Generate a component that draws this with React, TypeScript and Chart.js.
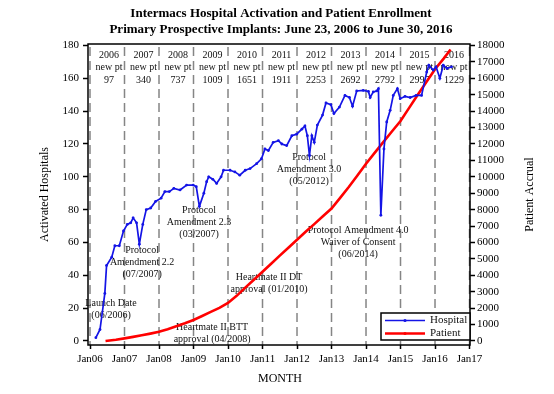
import React, { useEffect, useRef } from 'react';
import { Chart, registerables } from 'chart.js';

Chart.register(...registerables);

const FONT = '"Liberation Serif", "Times New Roman", serif';

// ---- data ----
const hospitalDates = [
  2006.17, 2006.29, 2006.43, 2006.48, 2006.63, 2006.72, 2006.85, 2006.97,
  2007.08, 2007.18, 2007.25, 2007.35, 2007.43, 2007.53, 2007.63, 2007.76, 2007.9,
  2008.06, 2008.17, 2008.3, 2008.43, 2008.61, 2008.8, 2008.99,
  2009.08, 2009.17, 2009.3, 2009.38, 2009.44, 2009.56, 2009.67, 2009.8, 2009.87,
  2010.06, 2010.2, 2010.34, 2010.5, 2010.64, 2010.83, 2010.97,
  2011.07, 2011.17, 2011.31, 2011.46, 2011.56, 2011.7, 2011.85, 2011.99,
  2012.14, 2012.23, 2012.3, 2012.36, 2012.43, 2012.5, 2012.59, 2012.74, 2012.84, 2012.98,
  2013.07, 2013.23, 2013.39, 2013.52, 2013.61, 2013.73, 2013.92,
  2014.07, 2014.12, 2014.21, 2014.31, 2014.36, 2014.43, 2014.52, 2014.6, 2014.7, 2014.79, 2014.91, 2014.99,
  2015.13, 2015.28, 2015.45, 2015.61, 2015.76, 2015.82, 2015.95,
  2016.03, 2016.14, 2016.24, 2016.35, 2016.48,
];
const hospitalCounts = [
  2, 7, 29, 46, 51, 58, 58, 67,
  71, 72, 75, 72, 59, 71, 80, 81, 85,
  87, 91, 91, 93, 92, 95, 95,
  94, 82, 90, 97, 100, 98.5, 96, 100, 104,
  104, 103, 101, 104, 105, 108, 111,
  117, 116, 121, 122, 120, 119, 125, 126,
  129, 131, 125, 113, 125, 121, 131.5, 137.6, 145, 144,
  138.5, 142.5, 149.6, 148.3, 143, 152.3, 152.7,
  152, 148.3, 151.7, 152.3, 153.7, 76.6, 117, 133.4, 140.5, 149.6, 153.7, 147.6,
  149, 148.3, 149.6, 149.6, 163.8, 168, 165,
  167, 160, 168, 166, 167,
];

const patientDates = [
  2006.45, 2006.75, 2007.0, 2007.25, 2007.5, 2007.75, 2008.0, 2008.25, 2008.5, 2008.75,
  2009.0, 2009.25, 2009.5, 2009.75, 2010.0, 2010.25, 2010.5, 2010.75,
  2011.0, 2011.25, 2011.5, 2011.75, 2012.0, 2012.25, 2012.5, 2012.75,
  2013.0, 2013.25, 2013.5, 2013.75, 2014.0, 2014.25, 2014.5, 2014.75,
  2015.0, 2015.25, 2015.5, 2015.75, 2016.0, 2016.25, 2016.45,
];
const patientAccrual = [
  0, 80, 160, 250, 350, 450, 560, 720, 900, 1080,
  1280, 1520, 1770, 2020, 2320, 2750, 3250, 3730,
  4220, 4700, 5200, 5680, 6170, 6650, 7120, 7600,
  8070, 8720, 9380, 10080, 10800, 11460, 12110, 12760,
  13400, 14200, 15000, 15780, 16550, 17200, 17750,
];

const yearTicks = [2006, 2007, 2008, 2009, 2010, 2011, 2012, 2013, 2014, 2015, 2016, 2017];
const yearTickLabels = ['Jan06', 'Jan07', 'Jan08', 'Jan09', 'Jan10', 'Jan11', 'Jan12', 'Jan13', 'Jan14', 'Jan15', 'Jan16', 'Jan17'];
const hospitalTicks = [0, 20, 40, 60, 80, 100, 120, 140, 160, 180];
const patientTicks = [0, 1000, 2000, 3000, 4000, 5000, 6000, 7000, 8000, 9000, 10000, 11000, 12000, 13000, 14000, 15000, 16000, 17000, 18000];
const headerYears = ['2006', '2007', '2008', '2009', '2010', '2011', '2012', '2013', '2014', '2015', '2016'];
const newPatients = ['97', '340', '737', '1009', '1651', '1911', '2253', '2692', '2792', '2997', '1229'];

const noteTexts = [
  ['Launch Date', '(06/2006)'],
  ['Protocol', 'Amendment 2.2', '(07/2007)'],
  ['Protocol', 'Amendment 2.3', '(03/2007)'],
  ['Heartmate II BTT', 'approval (04/2008)'],
  ['Heartmate II DT', 'approval (01/2010)'],
  ['Protocol', 'Amendment 3.0', '(05/2012)'],
  ['Protocol Amendment 4.0', 'Waiver of Consent', '(06/2014)'],
];
// anchors in data coordinates (x: year, y: hospitals axis) of first line
const noteAnchors = [
  [2006.61, 23.1],
  [2007.51, 55.4],
  [2009.16, 79.8],
  [2009.54, 8.5],
  [2011.19, 38.7],
  [2012.35, 112.1],
  [2013.77, 67.6],
];

const BLUE = '#1414e6';
const RED = '#ff0000';

const overlay = {
  id: 'overlay',
  beforeDatasetsDraw(chart: any) {
    const { ctx, chartArea: a, scales } = chart;
    const x = scales.x;
    const y = scales.y;
    ctx.save();
    ctx.strokeStyle = '#858585';
    ctx.lineWidth = 1.5;
    ctx.setLineDash([9, 5]);
    yearTicks.forEach((t) => {
      const px = x.getPixelForValue(t);
      ctx.beginPath();
      ctx.moveTo(px, a.top + 3);
      ctx.lineTo(px, a.bottom);
      ctx.stroke();
    });
    ctx.setLineDash([]);
    ctx.fillStyle = '#111';
    ctx.font = `10px ${FONT}`;
    ctx.textAlign = 'center';
    ctx.textBaseline = 'middle';
    headerYears.forEach((yr, i) => {
      const cx = x.getPixelForValue(yearTicks[i] + 0.55);
      ctx.fillText(yr, cx, a.top + 11);
      ctx.fillText('new pt', cx, a.top + 23);
      ctx.fillText(newPatients[i], cx, a.top + 36);
    });
    noteTexts.forEach((lines, i) => {
      const cx = x.getPixelForValue(noteAnchors[i][0]);
      const cy = y.getPixelForValue(noteAnchors[i][1]);
      lines.forEach((l, j) => ctx.fillText(l, cx, cy + j * 12.3));
    });
    ctx.restore();
  },
  afterDraw(chart: any) {
    const { ctx, chartArea: a, width } = chart;
    ctx.save();
    ctx.strokeStyle = '#000';
    ctx.lineWidth = 1.5;
    ctx.strokeRect(a.left, a.top, a.right - a.left, a.bottom - a.top);
    const lx = a.right - 89;
    const ly = a.bottom - 32;
    ctx.fillStyle = '#fff';
    ctx.fillRect(lx, ly, 89, 27);
    ctx.strokeRect(lx, ly, 89, 27);
    const entries: [string, string][] = [['Hospital', BLUE], ['Patient', RED]];
    ctx.font = `11px ${FONT}`;
    ctx.textAlign = 'left';
    ctx.textBaseline = 'middle';
    entries.forEach(([label, col], i) => {
      const yy = ly + 7.5 + i * 13;
      ctx.strokeStyle = col;
      ctx.lineWidth = i === 0 ? 1.5 : 2.5;
      ctx.beginPath();
      ctx.moveTo(lx + 4, yy);
      ctx.lineTo(lx + 44, yy);
      ctx.stroke();
      ctx.fillStyle = col;
      ctx.beginPath();
      ctx.arc(lx + 24, yy, 1.6, 0, Math.PI * 2);
      ctx.fill();
      ctx.fillStyle = '#111';
      ctx.fillText(label, lx + 49, yy);
    });
    ctx.fillStyle = '#000';
    ctx.textAlign = 'center';
    ctx.font = `bold 13px ${FONT}`;
    ctx.fillText('Intermacs Hospital Activation and Patient Enrollment', width / 2 + 4, 14);
    ctx.fillText('Primary Prospective Implants: June 23, 2006 to June 30, 2016', width / 2 + 4, 30);
    ctx.font = `12px ${FONT}`;
    ctx.fillText('MONTH', (a.left + a.right) / 2 + 1, 379);
    ctx.save();
    ctx.translate(45, (a.top + a.bottom) / 2);
    ctx.rotate(-Math.PI / 2);
    ctx.fillText('Activated Hospitals', 0, 0);
    ctx.restore();
    ctx.save();
    ctx.translate(530, (a.top + a.bottom) / 2);
    ctx.rotate(-Math.PI / 2);
    ctx.fillText('Patient Accrual', 0, 0);
    ctx.restore();
    ctx.restore();
  },
};

export default function App() {
  const ref = useRef<HTMLCanvasElement | null>(null);
  useEffect(() => {
    if (!ref.current) return;
    const tickFont = { family: FONT, size: 11 };
    const chart = new Chart(ref.current, {
      type: 'line',
      data: {
        datasets: [
          {
            label: 'Hospital',
            data: hospitalDates.map((d, i) => ({ x: d, y: hospitalCounts[i] })),
            borderColor: BLUE,
            backgroundColor: BLUE,
            borderWidth: 1.7,
            pointRadius: 1.4,
            pointBorderWidth: 0,
            tension: 0,
            yAxisID: 'y',
          },
          {
            label: 'Patient',
            data: patientDates.map((d, i) => ({ x: d, y: patientAccrual[i] })),
            borderColor: RED,
            backgroundColor: RED,
            borderWidth: 2.6,
            pointRadius: 0,
            tension: 0,
            yAxisID: 'y2',
          },
        ],
      },
      options: {
        responsive: false,
        animation: false,
        devicePixelRatio: 1,
        layout: { padding: { top: 44, left: 0, right: 0, bottom: 0 } },
        plugins: { legend: { display: false }, title: { display: false }, tooltip: { enabled: false } },
        scales: {
          x: {
            type: 'linear',
            min: 2005.942,
            max: 2017.014,
            afterBuildTicks: (s: any) => { s.ticks = yearTicks.map((v) => ({ value: v })); },
            afterFit: (s: any) => { s.height = 49; },
            ticks: {
              font: tickFont,
              color: '#000',
              padding: 4,
              maxRotation: 0,
              autoSkip: false,
              callback: (_v: any, i: number) => yearTickLabels[i],
            },
            grid: { drawOnChartArea: false, drawTicks: true, tickLength: 4, tickColor: '#000', tickWidth: 1.5 },
            border: { display: false },
          },
          y: {
            type: 'linear',
            position: 'left',
            min: -2.44,
            max: 180.9,
            afterBuildTicks: (s: any) => { s.ticks = hospitalTicks.map((v) => ({ value: v })); },
            afterFit: (s: any) => { s.width = 88; },
            ticks: { font: tickFont, color: '#000', padding: 4, callback: (v: any) => String(v) },
            grid: { drawOnChartArea: false, drawTicks: true, tickLength: 5, tickColor: '#000', tickWidth: 1.5 },
            border: { display: false },
          },
          y2: {
            type: 'linear',
            position: 'right',
            min: -244,
            max: 18090,
            afterBuildTicks: (s: any) => { s.ticks = patientTicks.map((v) => ({ value: v })); },
            afterFit: (s: any) => { s.width = 84; },
            ticks: { font: tickFont, color: '#000', padding: 2, callback: (v: any) => String(v) },
            grid: { drawOnChartArea: false, drawTicks: true, tickLength: 5, tickColor: '#000', tickWidth: 1.5 },
            border: { display: false },
          },
        },
      },
      plugins: [overlay],
    } as any);
    return () => chart.destroy();
  }, []);
  return (
    <div style={{ position: 'absolute', left: 0, top: 0, width: 554, height: 394, background: '#fff' }}>
      <canvas ref={ref} width={554} height={394} style={{ display: 'block', width: 554, height: 394 }} />
    </div>
  );
}
